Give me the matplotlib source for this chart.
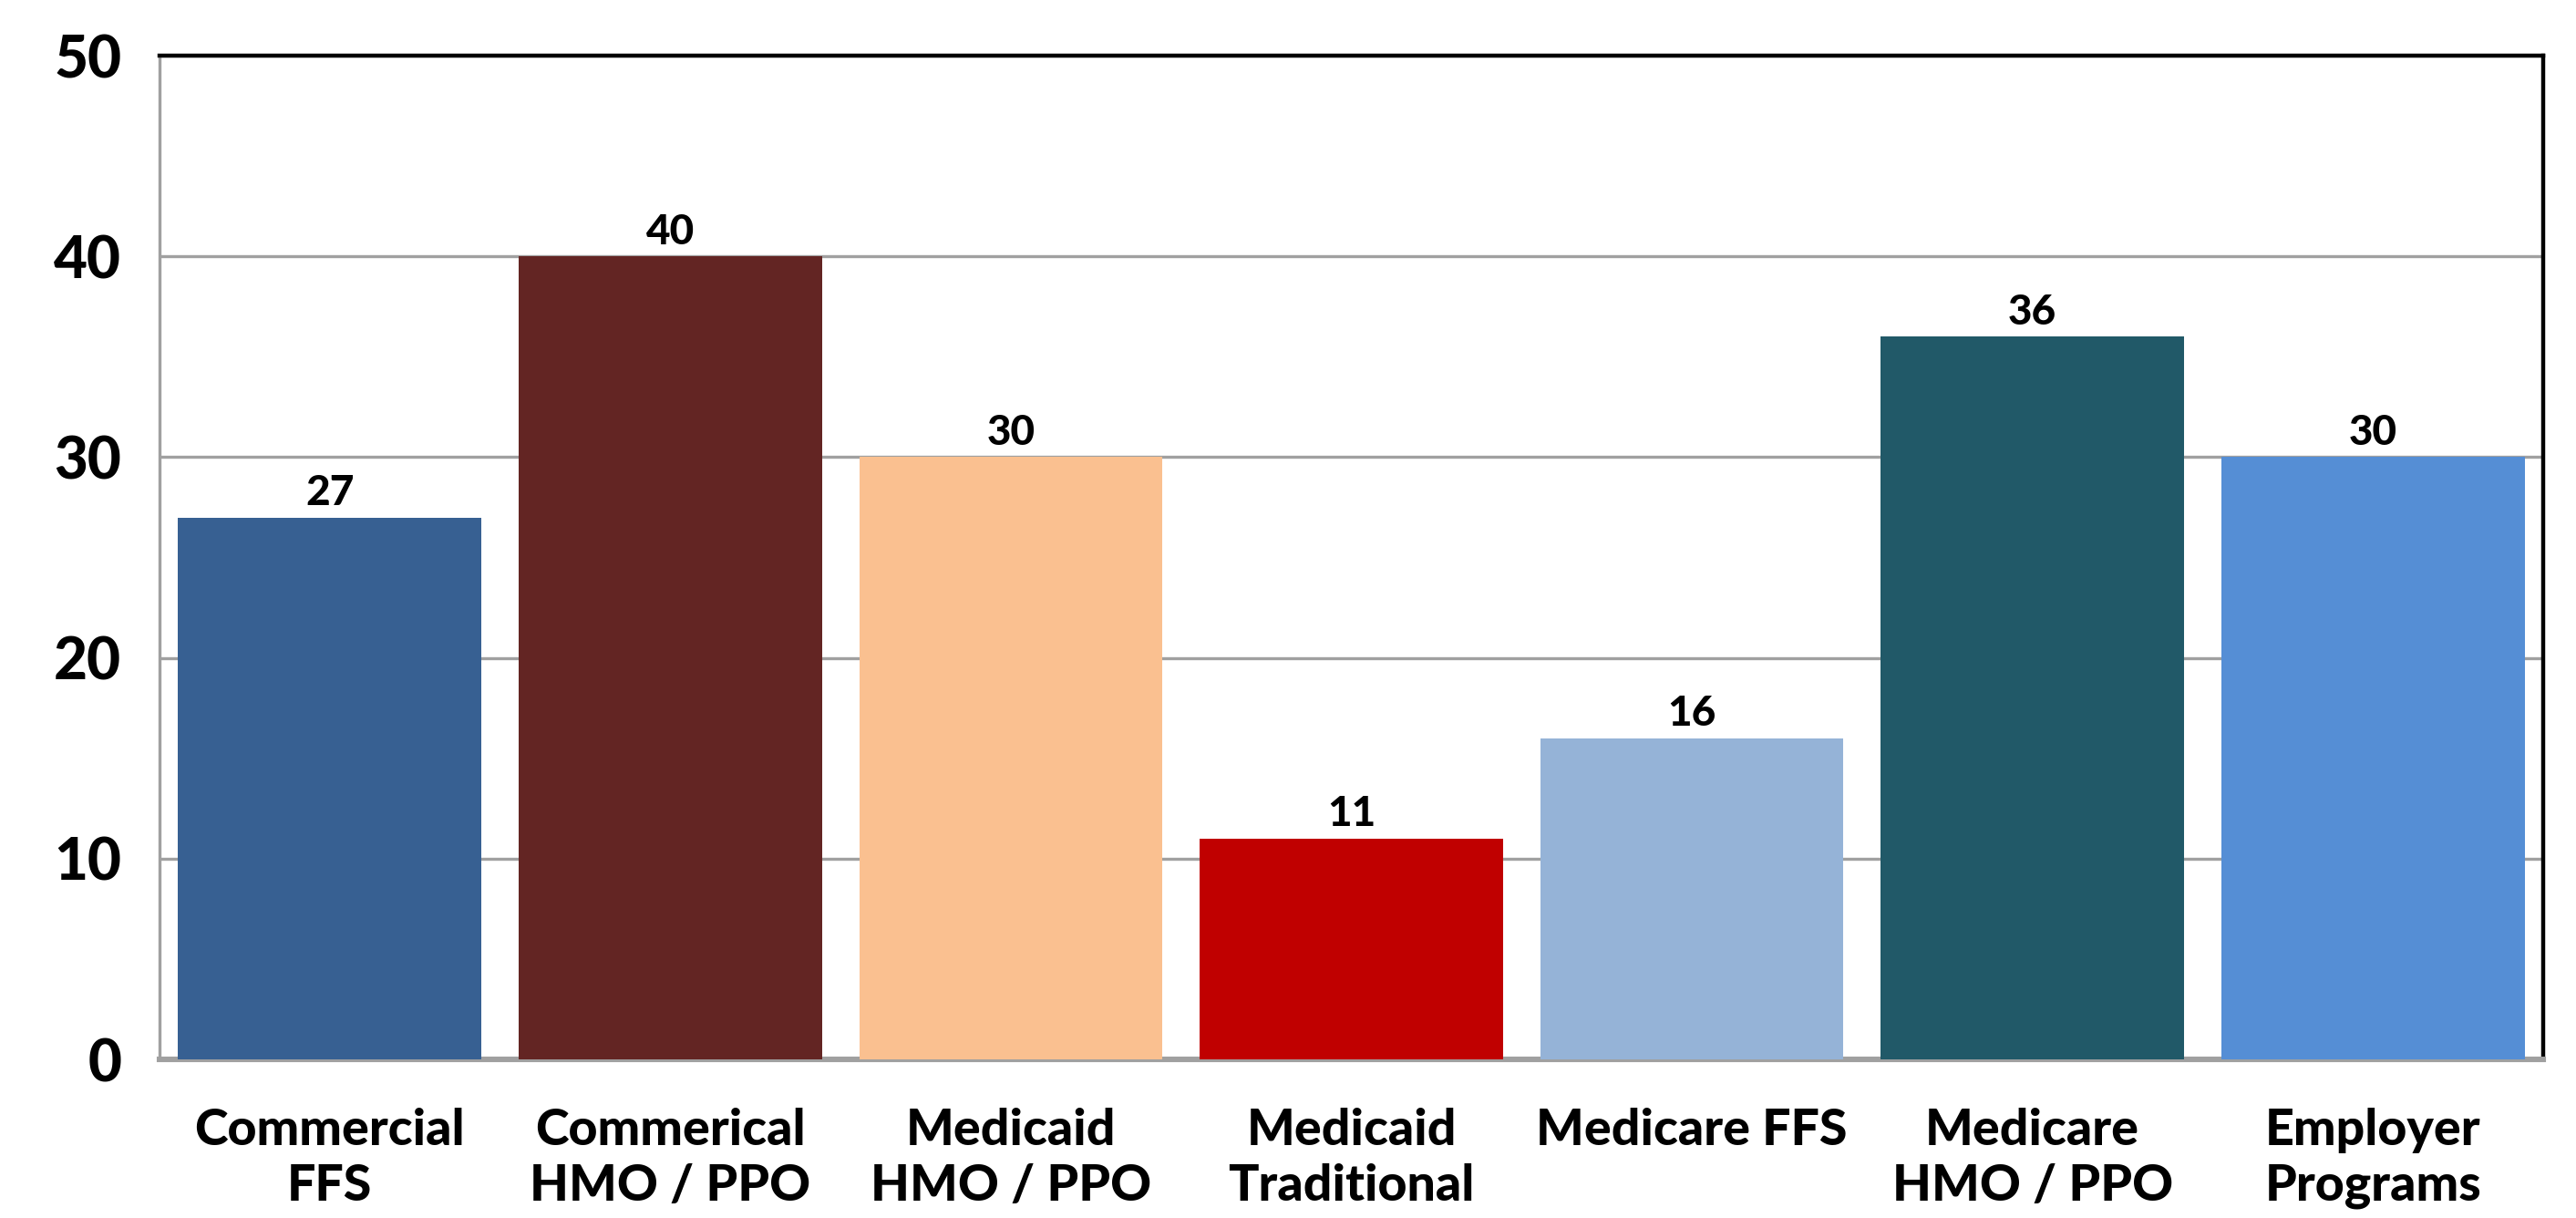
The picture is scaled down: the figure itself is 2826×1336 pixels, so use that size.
import matplotlib.pyplot as plt

categories = ["Commercial\nFFS", "Commerical\nHMO / PPO", "Medicaid\nHMO / PPO",
              "Medicaid\nTraditional", "Medicare FFS", "Medicare\nHMO / PPO",
              "Employer\nPrograms"]
values = [27, 40, 30, 11, 16, 36, 30]
colors = ["#376092", "#632523", "#FAC090", "#C00000", "#95B3D7", "#215968", "#558ED5"]
yticks = [0, 10, 20, 30, 40, 50]

plt.rcParams["font.family"] = ["Lato", "DejaVu Sans"]

fig = plt.figure(figsize=(14.13, 6.68), dpi=200)
ax = fig.add_axes([0.0619, 0.1302, 0.9254, 0.8241])

x = list(range(len(categories)))
bars = ax.bar(x, values, width=0.89, color=colors, zorder=3)

# value labels above each bar
for b, v in zip(bars, values):
    ax.text(b.get_x() + b.get_width() / 2, v + 0.25, str(v), ha="center", va="bottom",
            fontsize=16.5, fontweight="black", zorder=4)

ax.set_xlim(-0.5, len(categories) - 0.5)
ax.set_ylim(0, 50)
ax.set_yticks(yticks)
ax.set_yticklabels([str(t) for t in yticks], fontsize=23, fontweight="black")
ax.set_xticks(x)
ax.set_xticklabels(categories, fontsize=20, fontweight="black", linespacing=1.27)
ax.tick_params(axis="both", length=0)
ax.tick_params(axis="y", pad=15)
ax.tick_params(axis="x", pad=19)

ax.grid(axis="y", color="#A0A0A0", linewidth=1.2, zorder=0)
ax.spines["top"].set_color("black")
ax.spines["top"].set_linewidth(1.6)
ax.spines["right"].set_color("black")
ax.spines["right"].set_linewidth(1.6)
ax.spines["left"].set_color("#A0A0A0")
ax.spines["left"].set_linewidth(1.2)
ax.spines["bottom"].set_color("#A0A0A0")
ax.spines["bottom"].set_linewidth(2.2)

fig.savefig("out.png", dpi=200, facecolor="white")
